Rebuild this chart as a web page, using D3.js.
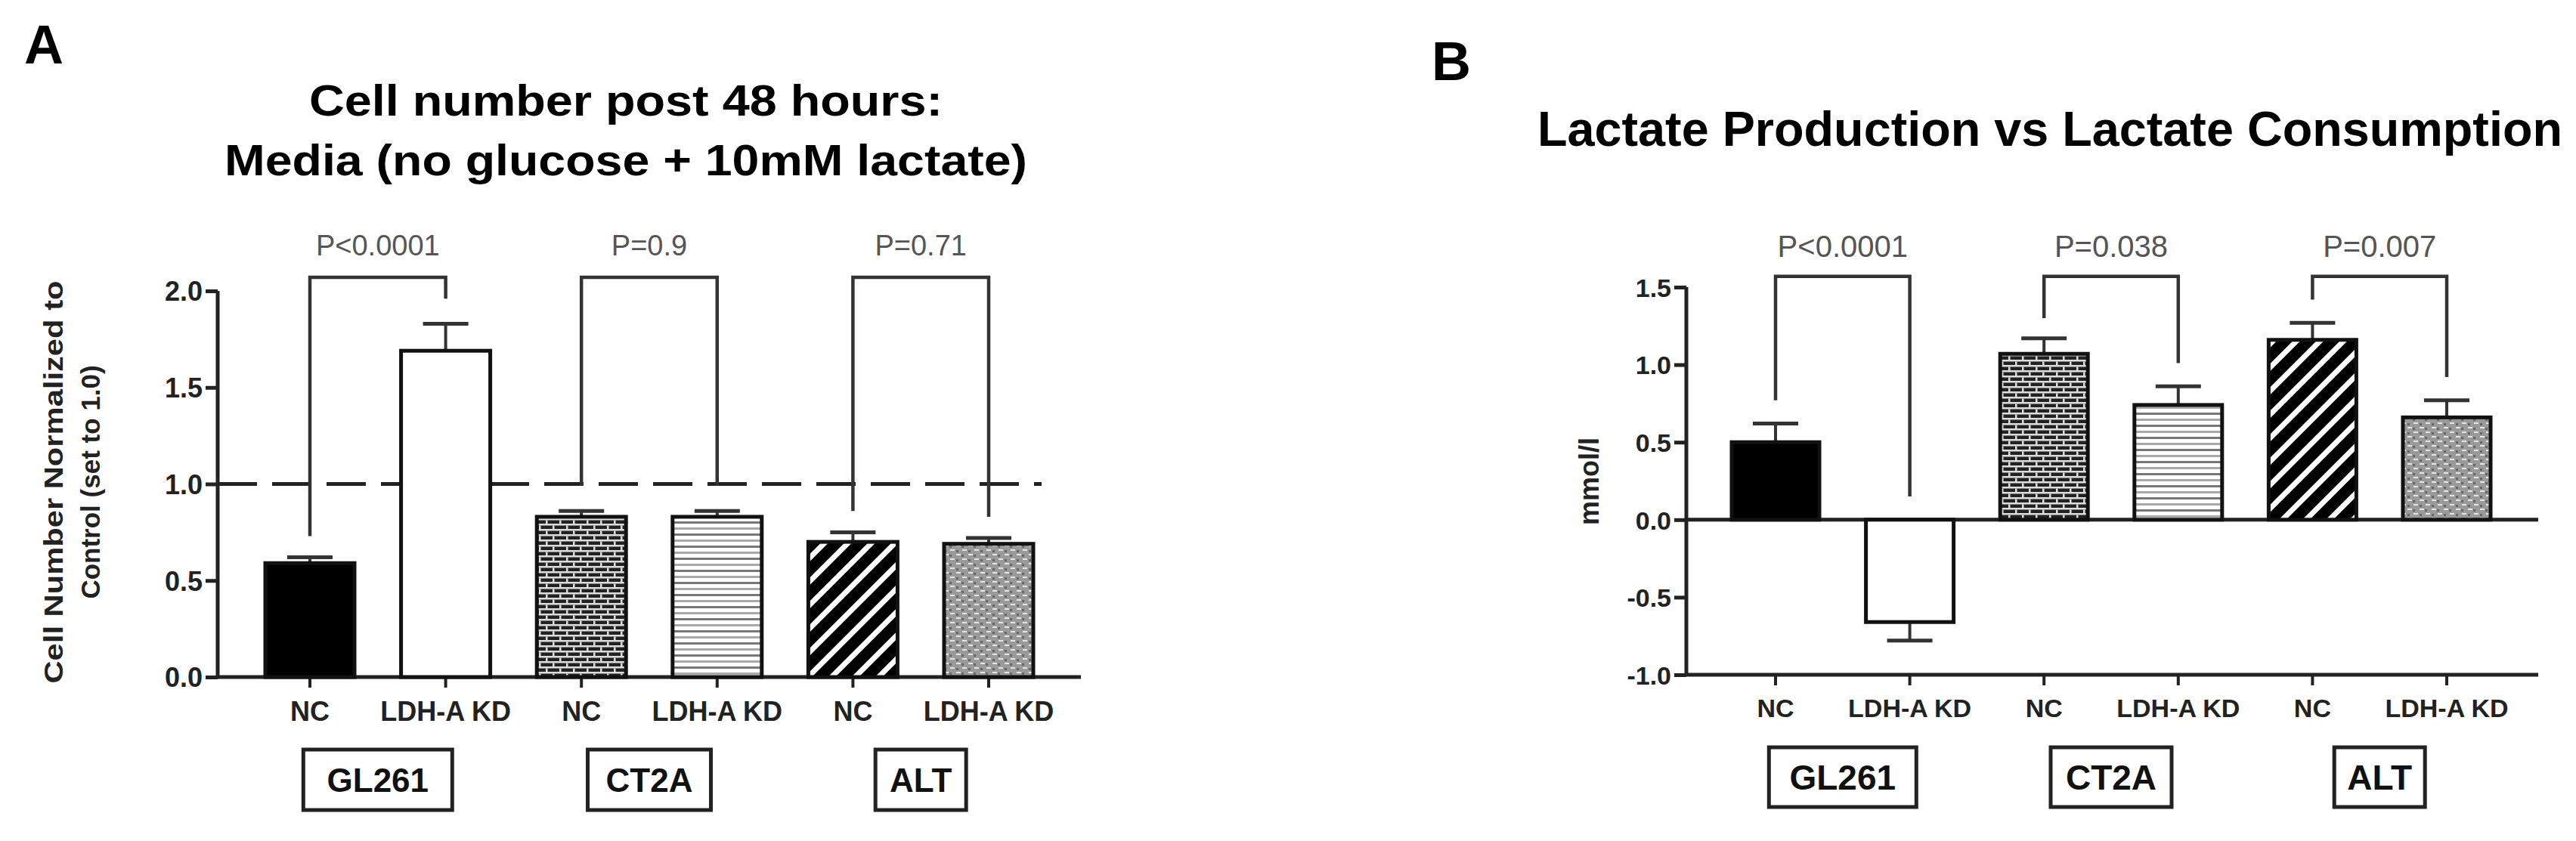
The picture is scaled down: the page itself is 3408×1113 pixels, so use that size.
<!DOCTYPE html>
<html><head><meta charset="utf-8">
<script src="https://cdn.jsdelivr.net/npm/d3@7"></script>
<style>body{margin:0;background:#fff}svg{display:block}</style>
</head><body>
<svg id="c" width="3408" height="1113"></svg>
<script>
const groups = ["GL261","CT2A","ALT"];
const conditions = ["NC","LDH-A KD"];
const barKeys = ["GL261-NC","GL261-KD","CT2A-NC","CT2A-KD","ALT-NC","ALT-KD"];
const barLabels = ["NC","LDH-A KD","NC","LDH-A KD","NC","LDH-A KD"];
const barFills = ["solid","empty","brick","hlines","diag","dots"];

const cellMean = [0.59,1.69,0.83,0.83,0.70,0.69];
const cellErr  = [0.03,0.14,0.03,0.03,0.05,0.03];
const cellLeg  = [0.73,1.96,0.99,0.99,0.86,0.83];
const cellP    = ["P<0.0001","P=0.9","P=0.71"];
const cellTicks = [0,0.5,1.0,1.5,2.0];

const lacMean = [0.50,-0.66,1.07,0.74,1.16,0.66];
const lacErr  = [0.12,0.12,0.10,0.12,0.11,0.11];
const lacLeg  = [0.77,0.15,1.30,1.01,1.42,0.92];
const lacP    = ["P<0.0001","P=0.038","P=0.007"];
const lacTicks = [-1.0,-0.5,0,0.5,1.0,1.5];

const svg = d3.select("#c");
const defs = svg.append("defs");
const ARIAL = "'Liberation Sans', Arial, sans-serif";
const NARROW = "'Liberation Sans Narrow', 'Arial Narrow', 'Liberation Sans', sans-serif";

let p = defs.append("pattern").attr("id","brick").attr("patternUnits","userSpaceOnUse").attr("width",18).attr("height",14);
p.append("rect").attr("width",18).attr("height",14).attr("fill","#222");
p.append("rect").attr("y",0).attr("width",18).attr("height",2.5).attr("fill","#ddd");
p.append("rect").attr("y",7).attr("width",18).attr("height",2.5).attr("fill","#ddd");
p.append("rect").attr("x",2).attr("y",2.5).attr("width",2.5).attr("height",4.5).attr("fill","#ddd");
p.append("rect").attr("x",11).attr("y",9.5).attr("width",2.5).attr("height",4.5).attr("fill","#ddd");
p = defs.append("pattern").attr("id","hlines").attr("patternUnits","userSpaceOnUse").attr("width",10).attr("height",16);
p.append("rect").attr("width",10).attr("height",16).attr("fill","#fff");
p.append("rect").attr("y",2).attr("width",10).attr("height",3).attr("fill","#777");
p.append("rect").attr("y",10).attr("width",10).attr("height",3).attr("fill","#aaa");
p = defs.append("pattern").attr("id","diag").attr("patternUnits","userSpaceOnUse").attr("width",22).attr("height",22).attr("patternTransform","rotate(45)");
p.append("rect").attr("width",22).attr("height",22).attr("fill","#000");
p.append("rect").attr("x",0).attr("width",7).attr("height",22).attr("fill","#fff");
p = defs.append("pattern").attr("id","dots").attr("patternUnits","userSpaceOnUse").attr("width",16).attr("height",12);
p.append("rect").attr("width",16).attr("height",12).attr("fill","#9a9a9a");
p.append("rect").attr("x",1).attr("y",1).attr("width",6).attr("height",2).attr("fill","#e6e6e6");
p.append("rect").attr("x",9).attr("y",7).attr("width",6).attr("height",2).attr("fill","#e6e6e6");
p.append("rect").attr("x",8).attr("y",2).attr("width",3).attr("height",3).attr("fill","#666");
p.append("rect").attr("x",1).attr("y",8).attr("width",3).attr("height",3).attr("fill","#666");
const fillOf = f => f==="solid" ? "#000" : f==="empty" ? "#fff" : `url(#${f})`;

function panel(o){
  const g = svg.append("g");
  const y = d3.scaleLinear().domain(o.domain).range(o.yRange);
  const x = d3.scalePoint().domain(barKeys).range(o.xRange);
  const y0 = y(0), yBot = y(o.domain[0]);
  const fam = o.font;
  const ya = g.append("g").attr("transform",`translate(${o.axisX},0)`)
    .call(d3.axisLeft(y).tickValues(o.ticks).tickSize(16).tickFormat(d3.format(".1f")));
  ya.select(".domain").attr("stroke","#222").attr("stroke-width",5).attr("d",`M0,${y(o.domain[1])}V${yBot}`);
  ya.selectAll(".tick line").attr("stroke","#222").attr("stroke-width",5);
  ya.selectAll(".tick text").attr("fill","#222").attr("font-family",fam).attr("font-weight","bold")
    .attr("font-size",o.tickFS).attr("x",-20).attr("dy","0.36em").text(d=>d3.format(".1f")(d).replace("−","-"));
  g.append("line").attr("x1",o.axisX).attr("x2",o.axisEnd).attr("y1",y0).attr("y2",y0).attr("stroke","#222").attr("stroke-width",5);
  if (o.domain[0] < 0) g.append("line").attr("x1",o.axisX).attr("x2",o.axisEnd).attr("y1",yBot).attr("y2",yBot).attr("stroke","#222").attr("stroke-width",5);
  barKeys.forEach(k=>g.append("line").attr("x1",x(k)).attr("x2",x(k)).attr("y1",yBot).attr("y2",yBot+14).attr("stroke","#222").attr("stroke-width",4));
  if (o.ref!=null) g.append("line").attr("x1",o.axisX).attr("x2",o.refEnd).attr("y1",y(o.ref)).attr("y2",y(o.ref))
      .attr("stroke","#222").attr("stroke-width",5).attr("stroke-dasharray","52,20");
  barKeys.forEach((k,i)=>{
    const m=o.mean[i], e=o.err[i], tip = m>=0 ? m+e : m-e;
    g.append("line").attr("x1",x(k)).attr("x2",x(k)).attr("y1",y(m)).attr("y2",y(tip)).attr("stroke","#333").attr("stroke-width",4);
    g.append("line").attr("x1",x(k)-30).attr("x2",x(k)+30).attr("y1",y(tip)).attr("y2",y(tip)).attr("stroke","#333").attr("stroke-width",5);
  });
  barKeys.forEach((k,i)=>{
    const m=o.mean[i];
    g.append("rect").attr("x",x(k)-o.bw/2).attr("width",o.bw)
      .attr("y",Math.min(y(m),y0)).attr("height",Math.abs(y(m)-y0))
      .attr("fill",fillOf(barFills[i])).attr("stroke","#111").attr("stroke-width",5);
  });
  groups.forEach((gr,j)=>{
    const a=barKeys[2*j], b=barKeys[2*j+1], top=y(o.brTop);
    g.append("path").attr("d",`M${x(a)},${y(o.leg[2*j])}V${top}H${x(b)}V${y(o.leg[2*j+1])}`)
      .attr("fill","none").attr("stroke","#333").attr("stroke-width",4.5);
    g.append("text").attr("x",(x(a)+x(b))/2).attr("y",o.pY).attr("text-anchor","middle")
      .attr("font-family",fam).attr("font-size",o.pFS).attr("fill","#555").text(o.pLabels[j]);
  });
  barKeys.forEach((k,i)=>g.append("text").attr("x",x(k)).attr("y",o.catY).attr("text-anchor","middle")
    .attr("font-family",fam).attr("font-weight","bold").attr("font-size",o.catFS).attr("fill","#222").text(barLabels[i]));
  groups.forEach((gr,j)=>{
    const cx=(x(barKeys[2*j])+x(barKeys[2*j+1]))/2, w=o.boxW[j];
    g.append("rect").attr("x",cx-w/2).attr("y",o.boxY[0]).attr("width",w).attr("height",o.boxY[1]-o.boxY[0])
      .attr("fill","#fff").attr("stroke","#222").attr("stroke-width",5);
    g.append("text").attr("x",cx).attr("y",(o.boxY[0]+o.boxY[1])/2).attr("dy","0.36em").attr("text-anchor","middle")
      .attr("font-family",fam).attr("font-weight","bold").attr("font-size",o.boxFS).attr("fill","#111").text(gr);
  });
  return g;
}

panel({domain:[0,2],yRange:[896,385],xRange:[410,1308],axisX:288,axisEnd:1430,bw:118,
  ticks:cellTicks,tickFS:36,mean:cellMean,err:cellErr,leg:cellLeg,brTop:2.07,pLabels:cellP,pY:338,pFS:38,
  catY:954,catFS:36,boxW:[197,163,120],boxY:[992,1072],boxFS:44,font:ARIAL,ref:1.0,refEnd:1378});
panel({domain:[-1,1.5],yRange:[893,380],xRange:[2349,3237],axisX:2231,axisEnd:3358,bw:116,
  ticks:lacTicks,tickFS:34,mean:lacMean,err:lacErr,leg:lacLeg,brTop:1.57,pLabels:lacP,pY:340,pFS:40,
  catY:949,catFS:34,boxW:[195,160,120],boxY:[989,1068],boxFS:46,font:NARROW,ref:null});

svg.append("text").attr("x",32).attr("y",84).attr("font-family",ARIAL).attr("font-weight","bold").attr("font-size",72).text("A");
svg.append("text").attr("x",1894).attr("y",106).attr("font-family",ARIAL).attr("font-weight","bold").attr("font-size",72).text("B");
svg.append("text").attr("x",828).attr("y",153).attr("text-anchor","middle").attr("font-family",ARIAL).attr("font-weight","bold")
  .attr("font-size",58).attr("textLength",838).attr("lengthAdjust","spacingAndGlyphs").text("Cell number post 48 hours:");
svg.append("text").attr("x",828).attr("y",232).attr("text-anchor","middle").attr("font-family",ARIAL).attr("font-weight","bold")
  .attr("font-size",58).attr("textLength",1062).attr("lengthAdjust","spacingAndGlyphs").text("Media (no glucose + 10mM lactate)");
svg.append("text").attr("x",2712).attr("y",193).attr("text-anchor","middle").attr("font-family",NARROW).attr("font-weight","bold")
  .attr("font-size",64).attr("textLength",1356).attr("lengthAdjust","spacingAndGlyphs").text("Lactate Production vs Lactate Consumption");
svg.append("text").attr("transform","translate(83,638) rotate(-90)").attr("text-anchor","middle").attr("font-family",ARIAL)
  .attr("font-weight","bold").attr("font-size",35).attr("fill","#222").attr("textLength",533).attr("lengthAdjust","spacingAndGlyphs").text("Cell Number Normalized to");
svg.append("text").attr("transform","translate(132,638) rotate(-90)").attr("text-anchor","middle").attr("font-family",ARIAL)
  .attr("font-weight","bold").attr("font-size",35).attr("fill","#222").text("Control (set to 1.0)");
svg.append("text").attr("transform","translate(2115,637) rotate(-90)").attr("text-anchor","middle").attr("font-family",NARROW)
  .attr("font-weight","bold").attr("font-size",36).attr("fill","#222").text("mmol/l");
</script>
</body></html>
